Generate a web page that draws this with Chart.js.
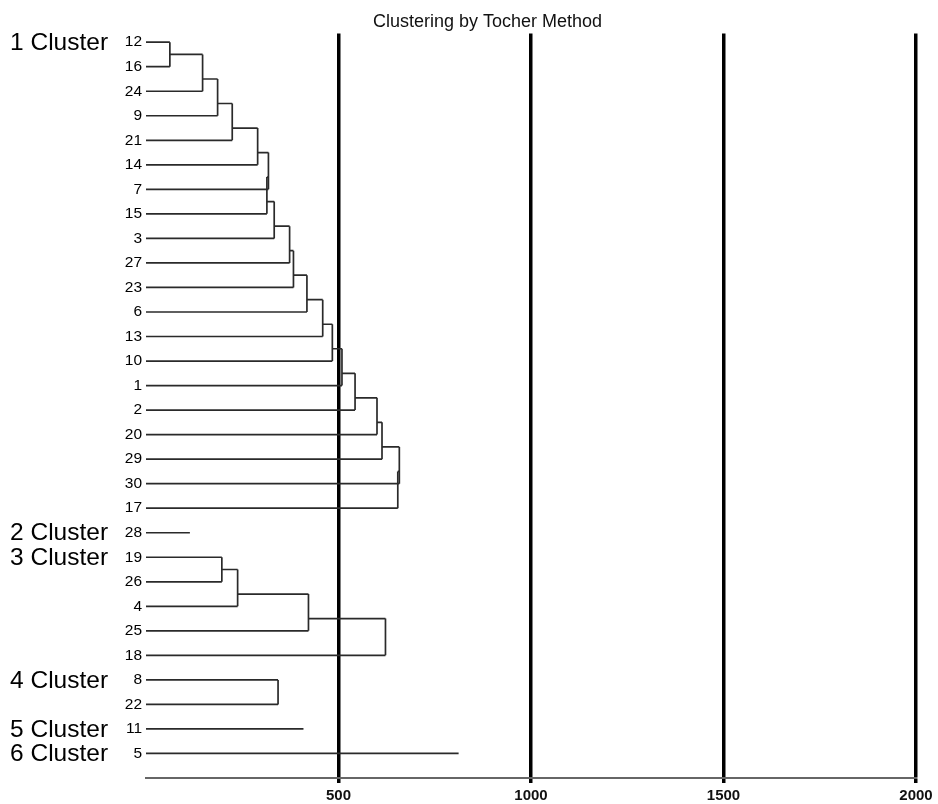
<!DOCTYPE html>
<html>
<head>
<meta charset="utf-8">
<title>Clustering by Tocher Method</title>
<script src="https://cdn.jsdelivr.net/npm/chart.js@4"></script>
<style>
  body { margin: 0; background: #fff; }
  #wrap { width: 938px; height: 804px; }
</style>
</head>
<body>
<div id="wrap"><canvas id="tocherChart"></canvas></div>
<script>
// cluster names, members (top to bottom) and merge distances
const clusterNames = ['1 Cluster', '2 Cluster', '3 Cluster', '4 Cluster', '5 Cluster', '6 Cluster'];

const cluster1 = ['12', '16', '24', '9', '21', '14', '7', '15', '3', '27', '23', '6', '13', '10', '1', '2', '20', '29', '30', '17'];
const cluster1Dist = [62, 147, 186, 224, 290, 318, 314, 333, 373, 383, 418, 459, 484, 509, 543, 600, 613, 658, 654];

const cluster2 = ['28'];
const cluster2Dist = [114];

const cluster3 = ['19', '26', '4', '25', '18'];
const cluster3Dist = [197, 238, 422, 622];

const cluster4 = ['8', '22'];
const cluster4Dist = [343];

const cluster5 = ['11'];
const cluster5Dist = [409];

const cluster6 = ['5'];
const cluster6Dist = [812];

const xTicks = [500, 1000, 1500, 2000];

const members = [cluster1, cluster2, cluster3, cluster4, cluster5, cluster6];
const dists = [cluster1Dist, cluster2Dist, cluster3Dist, cluster4Dist, cluster5Dist, cluster6Dist];

// row labels for the y axis and first row of each cluster
const rowLabels = [];
const clusterStart = [];
members.forEach(m => {
  clusterStart.push(rowLabels.length);
  m.forEach(name => rowLabels.push(name));
});

// build the line segments of each ladder-shaped tree
const segments = [];
function seg(x1, y1, x2, y2) {
  segments.push([{ x: x1, y: y1 }, { x: x2, y: y2 }]);
}
members.forEach((m, c) => {
  const r0 = clusterStart[c];
  const h = dists[c];
  if (m.length === 1) {
    seg(0, r0, h[0], r0);
    return;
  }
  seg(0, r0, h[0], r0);
  for (let k = 1; k < m.length; k++) {
    const hk = h[k - 1];
    seg(0, r0 + k, hk, r0 + k);                       // leaf line
    seg(hk, k === 1 ? r0 : r0 + k - 1.5, hk, r0 + k); // vertical joint
    if (k < m.length - 1) seg(hk, r0 + k - 0.5, h[k], r0 + k - 0.5); // link to next joint
  }
});

const clusterLabels = {
  id: 'clusterLabels',
  afterDraw(chart) {
    const { ctx, scales: { y } } = chart;
    ctx.save();
    ctx.font = '24.5px "Liberation Sans", Arial, sans-serif';
    ctx.fillStyle = '#000';
    ctx.textAlign = 'left';
    ctx.textBaseline = 'middle';
    clusterNames.forEach((name, i) => {
      ctx.fillText(name, 10, y.getPixelForValue(clusterStart[i]) + 1);
    });
    ctx.restore();
  }
};

const padLeft = 59;
const areaLeft = 146;

new Chart(document.getElementById('tocherChart'), {
  type: 'scatter',
  data: {
    datasets: segments.map(s => ({
      data: s,
      showLine: true,
      borderColor: '#2a2a2a',
      borderWidth: 1.7,
      pointRadius: 0,
      pointHoverRadius: 0
    }))
  },
  options: {
    responsive: true,
    maintainAspectRatio: false,
    animation: false,
    layout: { padding: { left: padLeft, right: 22, top: 0, bottom: 0 } },
    plugins: {
      legend: { display: false },
      tooltip: { enabled: false },
      title: {
        display: true,
        text: 'Clustering by Tocher Method',
        color: '#111',
        font: { family: '"Liberation Sans", Arial, sans-serif', size: 18, weight: 'normal' },
        padding: { top: 11, bottom: 1 }
      }
    },
    scales: {
      x: {
        type: 'linear',
        min: 0,
        max: 2000,
        afterBuildTicks: scale => { scale.ticks = [0].concat(xTicks).map(v => ({ value: v })); },
        afterFit: scale => { scale.height = 26; },
        ticks: {
          callback: v => (v === 0 ? '' : v),
          color: '#111',
          padding: 4,
          font: { family: '"Liberation Sans", Arial, sans-serif', size: 15, weight: 'bold' }
        },
        grid: {
          color: ctx => (ctx.tick && ctx.tick.value === 0 ? 'rgba(0,0,0,0)' : '#000'),
          lineWidth: 3.5,
          tickLength: 5
        },
        border: { display: true, color: '#666', width: 2 }
      },
      y: {
        type: 'linear',
        reverse: true,
        min: -0.35,
        max: 30,
        afterBuildTicks: scale => { scale.ticks = rowLabels.map((_, i) => ({ value: i })); },
        afterFit: scale => { scale.width = areaLeft - padLeft; },
        ticks: {
          autoSkip: false,
          callback: v => (rowLabels[v] !== undefined ? rowLabels[v] : ''),
          color: '#000',
          padding: 4,
          font: { family: '"Liberation Sans", Arial, sans-serif', size: 15.5 }
        },
        grid: { display: false, drawTicks: false },
        border: { display: false }
      }
    }
  },
  plugins: [clusterLabels]
});
</script>
</body>
</html>
